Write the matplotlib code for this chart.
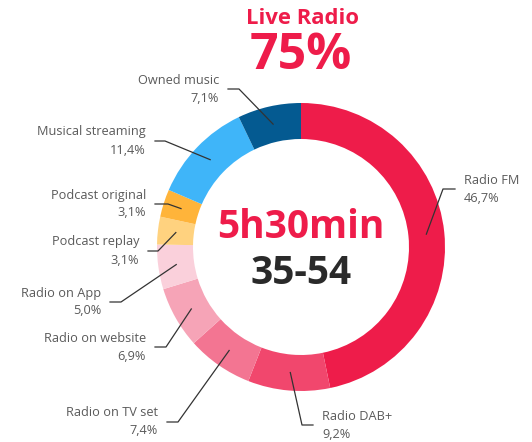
import numpy as np
import matplotlib
matplotlib.use('Agg')
import matplotlib.pyplot as plt

labels = ['Radio FM', 'Radio DAB+', 'Radio on TV set', 'Radio on website', 'Radio on App',
          'Podcast replay', 'Podcast original', 'Musical streaming', 'Owned music']
values = [46.7, 9.2, 7.4, 6.9, 5.0, 3.1, 3.1, 11.4, 7.1]
value_text = ['46,7%', '9,2%', '7,4%', '6,9%', '5,0%', '3,1%', '3,1%', '11,4%', '7,1%']
colors = ['#EE1C4A', '#F1476D', '#F37592', '#F6A4B7', '#FAD0DB',
          '#FFD27F', '#FFB43A', '#3FB5F9', '#045A91']

# layout (pixels from top-left): elbow start, elbow end, side
elbows = [((443, 189), (455, 189), 'left'),
          ((302, 425), (313, 425), 'left'),
          ((178, 422), (167, 422), 'right'),
          ((166, 347), (155, 347), 'right'),
          ((121, 302), (110, 302), 'right'),
          ((158, 251), (148, 251), 'right'),
          ((168, 204), (155, 204), 'right'),
          ((165, 141), (155, 141), 'right'),
          ((239, 89), (228, 89), 'right')]

W, H = 532, 442
cx, cy, R = 301, 247, 144
plt.rcParams['font.family'] = ['Open Sans', 'DejaVu Sans']

fig = plt.figure(figsize=(W / 100, H / 100), dpi=100)
ax = fig.add_axes([0, 0, 1, 1])
wedges, _ = ax.pie(values, colors=colors, startangle=90, counterclock=False,
                   center=(cx, H - cy), radius=R,
                   wedgeprops=dict(width=R * 0.25, edgecolor='none'))
ax.set_xlim(0, W)
ax.set_ylim(0, H)
ax.set_aspect('equal')
ax.axis('off')

for w, lab, vt, (p1, p2, side) in zip(wedges, labels, value_text, elbows):
    ang = np.deg2rad((w.theta1 + w.theta2) / 2)
    r = R - R * 0.125
    x0 = cx + r * np.cos(ang)
    y0 = (H - cy) + r * np.sin(ang)
    ax.plot([x0, p1[0], p2[0]], [y0, H - p1[1], H - p2[1]], color='#333333', lw=0.9)
    if side == 'left':
        tx = p2[0] + 9
    else:
        tx = p2[0] - 9
    ax.text(tx, H - p2[1] + 9, lab, ha=side, va='center', fontsize=9.2, color='#5a5a5a')
    ax.text(tx, H - p2[1] - 9, vt, ha=side, va='center', fontsize=9.2, color='#5a5a5a')

ax.text(cx, H - 227, '5h30min', ha='center', va='center', fontsize=28, fontweight='bold', color='#EE1C4A')
ax.text(cx, H - 273, '35-54', ha='center', va='center', fontsize=28, fontweight='bold', color='#2A2A2A')
ax.text(302, H - 19, 'Live Radio', ha='center', va='center', fontsize=15.8, fontweight='bold', color='#EE1C4A')
ax.text(301, H - 56, '75%', ha='center', va='center', fontsize=36, fontweight='bold', color='#EE1C4A')

fig.savefig('out.png', dpi=100)
